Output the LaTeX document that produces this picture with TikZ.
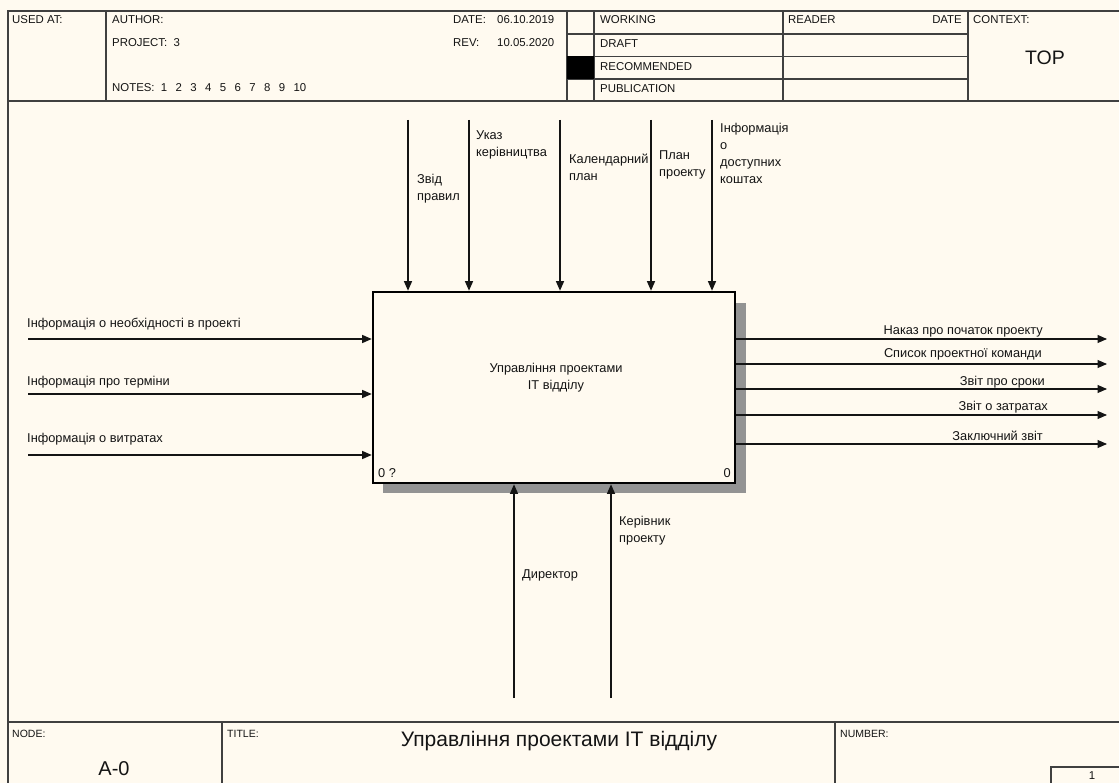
\documentclass[tikz,border=0pt]{standalone}
\usepackage{fontspec}
\setmainfont{Liberation Sans}
\usetikzlibrary{arrows.meta,positioning,calc}
\definecolor{paper}{HTML}{FFFAF0}
\definecolor{ink}{HTML}{141414}
\definecolor{rule}{HTML}{404040}
\definecolor{shadowgray}{HTML}{939393}
\newcommand\notegap{\hspace{8.4pt}}
\tikzset{
  arr/.style={-{Triangle[length=9.5pt,width=8pt]}, line width=1.1pt, color=ink},
  lbl/.style={font=\fontsize{12.8}{17}\selectfont, inner sep=0pt, align=left, text=ink},
  hdr/.style={font=\fontsize{11.4}{13}\selectfont, inner sep=0pt, anchor=base west, text=ink},
  ftr/.style={font=\fontsize{10.5}{12}\selectfont, inner sep=0pt, anchor=base west, text=ink},
  big/.style={font=\fontsize{20}{22}\selectfont, inner sep=0pt, text=ink},
  frame/.style={line width=1.2pt, color=rule},
}

\begin{document}
\begin{tikzpicture}[x=1pt, y=-1pt]
  \fill[paper] (0,0) rectangle (1119,783);
  \useasboundingbox (0,0) rectangle (1119,783);

  % frame, header and footer
  \draw[frame] (1119,11) -- (8,11) -- (8,783);
  \draw[frame, line width=2pt] (8,101) -- (1119,101);
  \draw[frame, line width=2pt] (8,722) -- (1119,722);
  \foreach \x in {106,567,594,783,968} \draw[frame] (\x,11) -- (\x,101);
  \foreach \y in {34,56.5,79} \draw[frame] (567,\y) -- (968,\y);
  \fill[black] (567,56.5) rectangle (594,79);
  \draw[frame] (222,722) -- (222,783);
  \draw[frame] (835,722) -- (835,783);
  \draw[frame] (1051,783) -- (1051,767) -- (1119,767);

  \node[hdr] (usedat) at (12,24) {USED AT:};
  \node[hdr] (author) at (112,24) {AUTHOR:};
  \node[hdr] (project) at (112,47) {PROJECT:\ \ 3};
  \node[hdr] (notes) at (112,92)
    {NOTES:\ \ 1\notegap2\notegap3\notegap4\notegap5\notegap6\notegap7\notegap8\notegap9\notegap10};
  \node[hdr] (date) at (453,24) {DATE:};
  \node[hdr] (dateval) at (497,24) {06.10.2019};
  \node[hdr] (rev) at (453,47) {REV:};
  \node[hdr] (revval) at (497,47) {10.05.2020};
  \node[hdr] (working) at (600,24) {WORKING};
  \node[hdr] (draft) at (600,48) {DRAFT};
  \node[hdr] (recom) at (600,71) {RECOMMENDED};
  \node[hdr] (publ) at (600,93) {PUBLICATION};
  \node[hdr] (reader) at (788,24) {READER};
  \node[hdr, anchor=base east] (rdate) at (962,24) {DATE};
  \node[hdr] (context) at (973,24) {CONTEXT:};
  \node[big, font=\fontsize{19.5}{22}\selectfont] (top) at (1045,58) {TOP};

  \node[ftr] (nodelbl) at (12,737) {NODE:};
  \node[ftr] (titlelbl) at (227,737) {TITLE:};
  \node[ftr] (numlbl) at (840,737) {NUMBER:};
  \node[big] (nodeno) at (114,769) {A-0};
  \node[big, font=\fontsize{21}{23}\selectfont] (title) at (559,741) {Управління проектами IT відділу};
  \node[hdr, anchor=center] (pageno) at (1092,776) {1};

  % activity box
  \fill[shadowgray] (735,303) rectangle (746,493);
  \fill[shadowgray] (383,483) rectangle (746,493);
  \node[draw=black, fill=paper, line width=2.6pt, minimum width=362pt, minimum height=191pt,
    inner sep=0pt] (fn) at (554,387.5) {};
  \node[lbl, align=center] (fntext) at (556,378) {Управління проектами\\IT відділу};
  \node[lbl, anchor=south west] (fnnum) at (378,478) {0 ?};
  \node[lbl, anchor=south east] (fnid) at (731,478) {0};

  % controls
  \foreach \x [count=\i] in {408,469,560,651,712} {
    \coordinate (c\i) at (\x,120);
    \draw[arr] (c\i) -- (c\i |- fn.north);
  }
  \node[lbl, anchor=north west] (c1l) at (417,174) {Звід\\правил};
  \node[lbl, anchor=north west] (c2l) at (476,130) {Указ\\керівництва};
  \node[lbl, anchor=north west] (c3l) at (569,154) {Календарний\\план};
  \node[lbl, anchor=north west] (c4l) at (659,150) {План\\проекту};
  \node[lbl, anchor=north west] (c5l) at (720,123) {Інформація\\о\\доступних\\коштах};

  % inputs
  \foreach \y [count=\i] in {339,394,455} {
    \coordinate (i\i) at (28,\y);
    \draw[arr] (i\i) -- (i\i -| fn.west);
  }
  \node[lbl, anchor=base west] (i1l) at (27,328) {Інформація о необхідності в проекті};
  \node[lbl, anchor=base west] (i2l) at (27,385) {Інформація про терміни};
  \node[lbl, anchor=base west] (i3l) at (27,442) {Інформація о витратах};

  % outputs
  \foreach \y [count=\i] in {339,364,389,415,444} {
    \coordinate (o\i) at (1107,\y);
    \draw[arr] (o\i -| fn.east) -- (o\i);
  }
  \node[lbl, anchor=base east] (o1l) at (1043,335) {Наказ про початок проекту};
  \node[lbl, anchor=base east] (o2l) at (1042,358) {Список проектної команди};
  \node[lbl, anchor=base east] (o3l) at (1045,385) {Звіт про сроки};
  \node[lbl, anchor=base east] (o4l) at (1048,410) {Звіт о затратах};
  \node[lbl, anchor=base east] (o5l) at (1043,440) {Заключний звіт};

  % mechanisms
  \coordinate (m1) at (514,698);
  \coordinate (m2) at (611,698);
  \draw[arr] (m1) -- (m1 |- fn.south);
  \draw[arr] (m2) -- (m2 |- fn.south);
  \node[lbl, anchor=base west] (m1l) at (522,578) {Директор};
  \node[lbl, anchor=north west] (m2l) at (619,516) {Керівник\\проекту};

\end{tikzpicture}
\end{document}
